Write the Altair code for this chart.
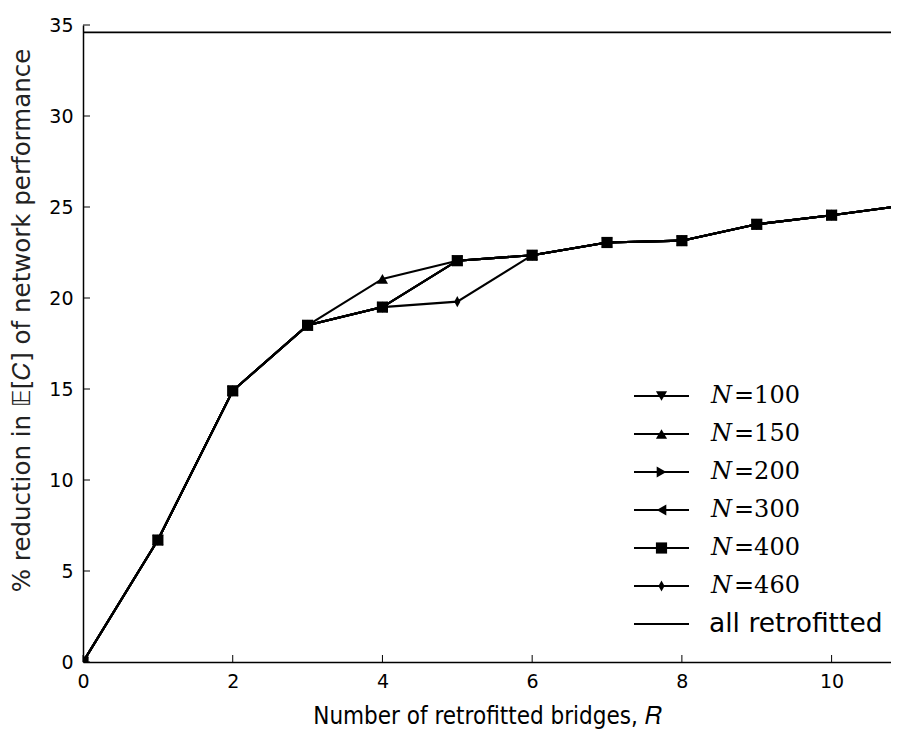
import altair as alt
import pandas as pd

# ---- data ----
R = list(range(12))
n100 = [0, 6.7, 14.9, 18.5, 19.5, 22.05, 22.35, 23.05, 23.15, 24.05, 24.55, 25.1]
n150 = [0, 6.7, 14.9, 18.5, 21.05, 22.05, 22.35, 23.05, 23.15, 24.05, 24.55, 25.1]
n200 = [0, 6.7, 14.9, 18.5, 19.5, 22.05, 22.35, 23.05, 23.15, 24.05, 24.55, 25.1]
n300 = [0, 6.7, 14.9, 18.5, 19.5, 22.05, 22.35, 23.05, 23.15, 24.05, 24.55, 25.1]
n400 = [0, 6.7, 14.9, 18.5, 19.5, 22.05, 22.35, 23.05, 23.15, 24.05, 24.55, 25.1]
n460 = [0, 6.7, 14.9, 18.5, 19.5, 19.8, 22.35, 23.05, 23.15, 24.05, 24.55, 25.1]
all_retrofitted = [34.6]

series_n = ["100", "150", "200", "300", "400", "460"]
series_vals = [n100, n150, n200, n300, n400, n460]
series_shapes = ["triangle-down", "triangle-up", "triangle-right", "triangle-left",
                 "square", "M0,-1L0.55,0L0,1L-0.55,0Z"]
series_sizes = [125, 125, 125, 125, 135, 280]
legend_last = "all retrofitted"

x_ticks = [0, 2, 4, 6, 8, 10]
y_ticks = [0, 5, 10, 15, 20, 25, 30, 35]

PX_PER_UNIT = 74.86
W, H = 808, 637
XDOM = [0, W / PX_PER_UNIT]
YDOM = [0, 35]

rows = []
for n, vals in zip(series_n, series_vals):
    for r, v in zip(R, vals):
        rows.append({"R": r, "v": v, "series": n})
df = pd.DataFrame(rows)

shape_scale = alt.Scale(domain=series_n, range=series_shapes)
size_scale = alt.Scale(domain=series_n, range=series_sizes)

xs = alt.Scale(domain=XDOM, nice=False, zero=False)
ys = alt.Scale(domain=YDOM, nice=False)

x_axis = alt.Axis(values=x_ticks, format="d", ticks=False, tickSize=0, grid=False,
                  domainColor="black", domainWidth=1.5,
                  labelFont="DejaVu Sans", labelFontSize=19, labelColor="black",
                  labelPadding=10, labelFlush=False,
                  title="Number of retrofitted bridges, 𝑅",
                  titleFont="DejaVu Sans Condensed, DejaVu Sans", titleFontSize=24,
                  titleFontWeight="normal", titleColor="black",
                  titleY=54, titleBaseline="middle")
y_axis = alt.Axis(values=y_ticks, format="d", ticks=False, tickSize=0, grid=False,
                  domainColor="black", domainWidth=1.5,
                  labelFont="DejaVu Sans", labelFontSize=19, labelColor="black",
                  labelPadding=10, labelFlush=False,
                  title="% reduction in 𝔼[𝐶]  of network performance",
                  titleFont="DejaVu Sans", titleFontSize=24.5,
                  titleFontWeight="normal", titleColor="#222222",
                  titleX=-61, titleY=295, titleBaseline="middle", titleAngle=270)

base = alt.Chart(df)

lines = base.mark_line(color="black", strokeWidth=2.1, clip=True).encode(
    x=alt.X("R:Q", scale=xs, axis=x_axis),
    y=alt.Y("v:Q", scale=ys, axis=y_axis),
    detail="series:N",
)
points = base.mark_point(filled=True, color="black", opacity=1, clip=True).encode(
    x=alt.X("R:Q", scale=xs),
    y=alt.Y("v:Q", scale=ys, axis=None),
    shape=alt.Shape("series:N", scale=shape_scale, legend=None),
    size=alt.Size("series:O", scale=size_scale, legend=None),
    order=alt.Order("series:N"),
)

allr = alt.Chart(pd.DataFrame({"v": all_retrofitted})).mark_rule(
    color="black", strokeWidth=1.8).encode(
    y=alt.Y("v:Q", scale=ys, axis=None))

# inward tick marks (matplotlib classic style)
yt = alt.Chart(pd.DataFrame({"v": y_ticks})).mark_rule(color="black", strokeWidth=1).encode(
    y=alt.Y("v:Q", scale=ys, axis=None), x=alt.value(0), x2=alt.value(7))
xt = alt.Chart(pd.DataFrame({"R": x_ticks})).mark_rule(color="black", strokeWidth=1).encode(
    x=alt.X("R:Q", scale=xs), y=alt.value(H), y2=alt.value(H - 7))

# legend (drawn manually, matplotlib style)
leg_rows = list(range(len(series_n) + 1))
leg = pd.DataFrame({"row": leg_rows[:-1], "series": series_n,
                    "eq": ["=" + n for n in series_n]})
leg_last = pd.DataFrame({"row": [leg_rows[-1]], "label": [legend_last]})
ly = alt.Scale(type="point", domain=leg_rows, range=[371, 599], padding=0)

leg_line = alt.Chart(pd.concat([leg[["row"]], leg_last[["row"]]])).mark_rule(
    color="black", strokeWidth=1.8).encode(
    y=alt.Y("row:O", scale=ly, axis=None), x=alt.value(551), x2=alt.value(606))
leg_pt = alt.Chart(leg).mark_point(filled=True, color="black", opacity=1).encode(
    y=alt.Y("row:O", scale=ly, axis=None), x=alt.value(578.5),
    shape=alt.Shape("series:N", scale=shape_scale, legend=None),
    size=alt.Size("series:O", scale=size_scale, legend=None))
leg_N = alt.Chart(leg).mark_text(align="left", baseline="middle", font="DejaVu Serif",
                                 fontStyle="italic", fontSize=24, color="black").encode(
    y=alt.Y("row:O", scale=ly, axis=None), x=alt.value(628), text=alt.value("N"))
leg_eq = alt.Chart(leg).mark_text(align="left", baseline="middle", font="DejaVu Serif",
                                  fontSize=24, color="black").encode(
    y=alt.Y("row:O", scale=ly, axis=None), x=alt.value(651), text="eq:N")
leg_txt = alt.Chart(leg_last).mark_text(align="left", baseline="middle", font="DejaVu Sans",
                                        fontSize=26.5, color="black").encode(
    y=alt.Y("row:O", scale=ly, axis=None), x=alt.value(626), text="label:N")

chart = alt.layer(
    allr, lines, points, yt, xt, leg_line, leg_pt, leg_N, leg_eq, leg_txt
).resolve_scale(y="independent").properties(
    width=W, height=H,
    autosize=alt.AutoSizeParams(type="none"),
    padding={"left": 75, "top": 17, "right": 0, "bottom": 70},
    background="white",
).configure_view(strokeWidth=0)

chart.save("out.html", embed_options={"renderer": "svg", "actions": False})
